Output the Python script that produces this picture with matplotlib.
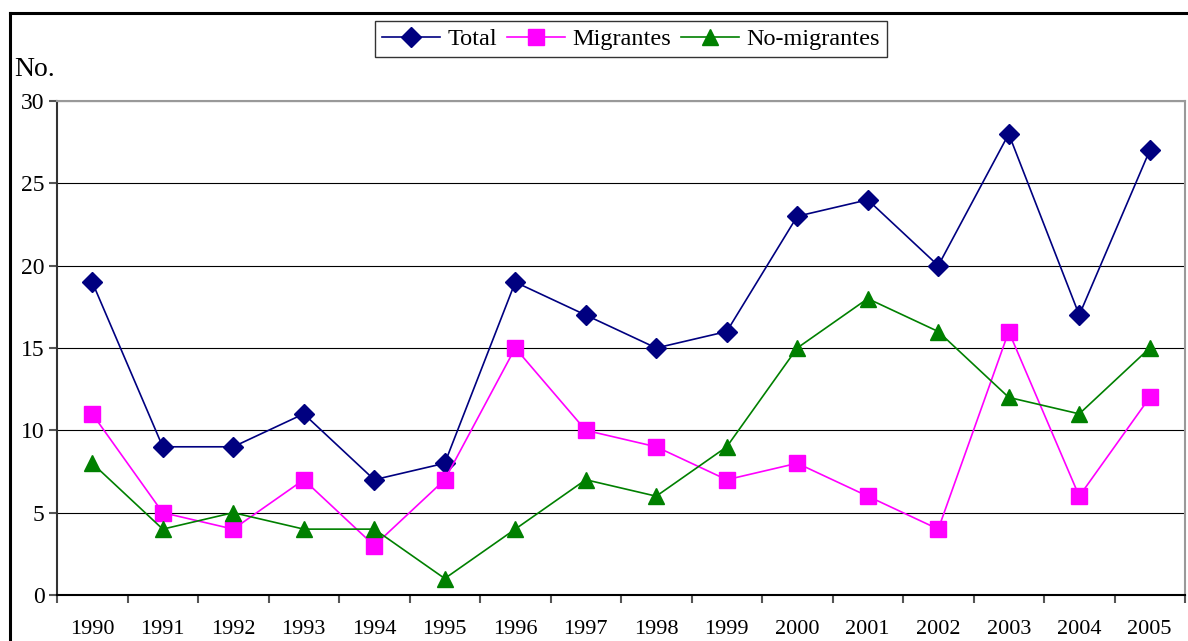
import numpy as np
import matplotlib.pyplot as plt
from matplotlib.lines import Line2D

years = ['1990', '1991', '1992', '1993', '1994', '1995', '1996', '1997',
         '1998', '1999', '2000', '2001', '2002', '2003', '2004', '2005']
total = [19, 9, 9, 11, 7, 8, 19, 17, 15, 16, 23, 24, 20, 28, 17, 27]
migrantes = [11, 5, 4, 7, 3, 7, 15, 10, 9, 7, 8, 6, 4, 16, 6, 12]
no_migrantes = [8, 4, 5, 4, 4, 1, 4, 7, 6, 9, 15, 18, 16, 12, 11, 15]

plt.rcParams['font.family'] = ['Liberation Serif', 'DejaVu Serif']

fig = plt.figure(figsize=(11.88, 6.41), dpi=100)
ax = fig.add_axes([57 / 1188, 46 / 641, 1128 / 1188, 494 / 641])

x = np.arange(len(years))
ax.plot(x, total, color='#000080', marker='D', markersize=10, lw=1.2, label='Total')
ax.plot(x, migrantes, color='#FF00FF', marker='s', markersize=11, lw=1.2, label='Migrantes')
ax.plot(x, no_migrantes, color='#008000', marker='^', markersize=12, lw=1.2, label='No-migrantes')

ax.set_xlim(-0.5, len(years) - 0.5)
ax.set_ylim(0, 30)
ax.set_yticks(range(0, 31, 5))
ax.yaxis.grid(True, color='black', lw=0.8)
ax.set_axisbelow(True)

# category labels centered, tick marks on the boundaries
ax.set_xticks(x)
ax.set_xticklabels(years)
ax.tick_params(axis='x', length=0, pad=18, labelsize=16)
ax.set_xticks(np.arange(-0.5, len(years)), minor=True)
ax.tick_params(axis='x', which='minor', length=6, color='#555555', width=1.5)
ax.tick_params(axis='y', length=6, labelsize=17, color='#555555', width=1.5, pad=3)

for s in ['top', 'right']:
    ax.spines[s].set_color('#999999')
    ax.spines[s].set_linewidth(1.5)
ax.spines['left'].set_color('#333333')
ax.spines['left'].set_linewidth(1.5)
ax.spines['bottom'].set_linewidth(1.5)

fig.text(14 / 1188, 1 - 70 / 641, 'No.', fontsize=20, va='center', ha='left')

leg = fig.legend(loc='center', bbox_to_anchor=(631 / 1188, 1 - 39 / 641), ncol=3,
                 fontsize=17.5, frameon=True, fancybox=False, edgecolor='black',
                 handlelength=2.4, columnspacing=0.4, handletextpad=0.3,
                 borderpad=0.3)
leg.get_frame().set_linewidth(1.0)

# outer chart frame
fig.add_artist(Line2D([10 / 1188, 10 / 1188], [0, 1 - 13 / 641], color='black', lw=2.2,
                      transform=fig.transFigure))
fig.add_artist(Line2D([10 / 1188, 1], [1 - 13 / 641, 1 - 13 / 641], color='black', lw=2.2,
                      transform=fig.transFigure))

fig.savefig('out.png', dpi=100)
